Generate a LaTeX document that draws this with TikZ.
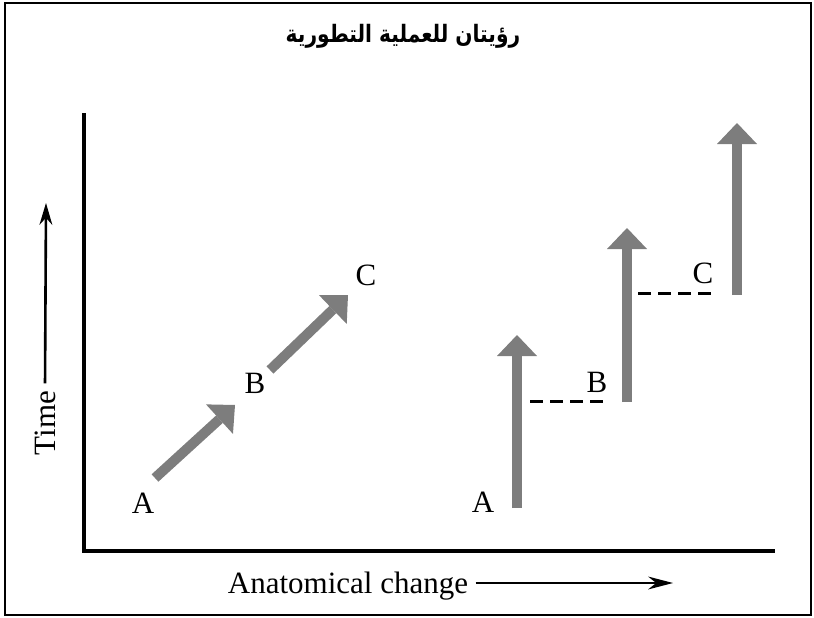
\documentclass[tikz,border=0pt]{standalone}
\usepackage{fontspec}
\usepackage{tikz}
\usetikzlibrary{arrows.meta}
\setmainfont{Liberation Serif}
\newfontfamily\arabicfont[Script=Arabic]{DejaVu Sans}
\TeXXeTstate=1
\definecolor{shaft}{RGB}{125, 125, 125}
\tikzset{
  lbl/.style={font=\fontsize{31}{36}\selectfont},
  evoarrow/.style={draw=shaft, line width=10, -{Triangle[width=40pt, length=21pt, line width=0pt]}},
  jumpline/.style={dash pattern=on 13pt off 7pt, line width=3}
}

\begin{document}
\begin{tikzpicture}[x=1pt, y=-1pt]

  \useasboundingbox (0, 0) rectangle (814, 618);
  \draw[line width=1.2] (5, 3) rectangle (811, 615);

  \node[font=\arabicfont\bfseries\fontsize{24}{28}\selectfont, xscale=0.84] (title) at (403, 36) {\beginR رؤيتان للعملية التطورية\endR};

  \coordinate (ytop) at (84, 113);
  \coordinate (origin) at (84, 551);
  \coordinate (xend) at (775, 551);
  \draw[line width=3.5] (ytop) -- (origin) -- (xend);

  \node[lbl, rotate=90] (time) at (45, 423) { Time };
  \coordinate (timetip) at (46, 203);
  \draw[-{Stealth[length=22pt, width=13pt, line width=0pt]}, line width=2.6, shorten <=4pt] (time.east) -- (timetip);

  \node[lbl, anchor=base] (anat) at (348, 593) { Anatomical change };
  \coordinate (anattip) at (673, 583);
  \draw[-{Stealth[length=25pt, width=13pt, line width=0pt]}, line width=2.6, shorten <=4pt] (anat.east |- anattip) -- (anattip);

  % gradual
  \node[lbl] (la) at (143, 503) { A };
  \node[lbl] (lb) at (255, 383) { B };
  \node[lbl] (lc) at (366, 275) { C };
  \coordinate (l1s) at (155, 478);
  \coordinate (l1e) at (235, 405);
  \coordinate (l2s) at (270, 370);
  \coordinate (l2e) at (348, 295);
  \draw[evoarrow] (l1s) -- (l1e);
  \draw[evoarrow] (l2s) -- (l2e);

  % punctuated
  \node[lbl] (ra) at (483, 502) { A };
  \node[lbl] (rb) at (597, 382) { B };
  \node[lbl] (rc) at (703, 273) { C };
  \coordinate (r1s) at (517, 508);
  \coordinate (r1e) at (517, 335);
  \coordinate (r2s) at (627, 402);
  \coordinate (r2e) at (627, 228);
  \coordinate (r3s) at (737, 295);
  \coordinate (r3e) at (737, 123);
  \draw[evoarrow] (r1s) -- (r1e);
  \draw[evoarrow] (r2s) -- (r2e);
  \draw[evoarrow] (r3s) -- (r3e);

  \coordinate (d1s) at (530, 401);
  \coordinate (d1e) at (607, 401);
  \coordinate (d2s) at (638, 293);
  \coordinate (d2e) at (717, 293);
  \draw[jumpline] (d1s) -- (d1e);
  \draw[jumpline] (d2s) -- (d2e);

\end{tikzpicture}
\end{document}
